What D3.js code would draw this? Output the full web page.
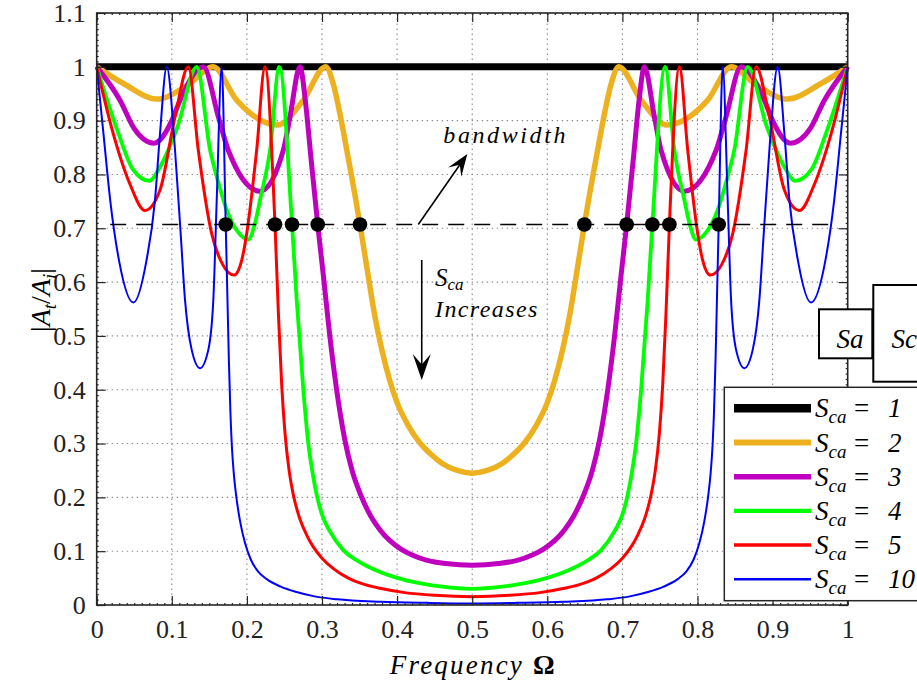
<!DOCTYPE html>
<html>
<head>
<meta charset="utf-8">
<script src="https://cdn.jsdelivr.net/npm/d3@7/dist/d3.min.js"></script>
<style>
  html, body { margin: 0; padding: 0; background: #fff; overflow: hidden; }
  svg { display: block; }
</style>
</head>
<body>
<svg id="chart" width="917" height="687" font-family="'Liberation Serif', 'DejaVu Serif', serif"></svg>
<script>
// ---- axis ticks -------------------------------------------------------
const freqTicks = [0, 0.1, 0.2, 0.3, 0.4, 0.5, 0.6, 0.7, 0.8, 0.9, 1];
const freqTickLabels = ["0", "0.1", "0.2", "0.3", "0.4", "0.5", "0.6", "0.7", "0.8", "0.9", "1"];
const magTicks = [0, 0.1, 0.2, 0.3, 0.4, 0.5, 0.6, 0.7, 0.8, 0.9, 1, 1.1];
const magTickLabels = ["0", "0.1", "0.2", "0.3", "0.4", "0.5", "0.6", "0.7", "0.8", "0.9", "1", "1.1"];

// ---- transmission |At/Ai| versus normalised frequency, one pair per S_ca ----
const scaValues = ["1", "2", "3", "4", "5", "10"];

const freqS1 = [0, 1];
const magS1 = [1, 1];

const freqS2 = [0, 0.0355, 0.080, 0.124, 0.155, 0.1864, 0.2405, 0.2751, 0.305, 0.315, 0.325, 0.335, 0.3435, 0.3506, 0.360, 0.370, 0.380, 0.390, 0.400, 0.415, 0.430, 0.445, 0.460, 0.480, 0.5,
  0.520, 0.540, 0.555, 0.570, 0.585, 0.600, 0.610, 0.620, 0.630, 0.640, 0.6494, 0.6565, 0.665, 0.675, 0.685, 0.695, 0.7249, 0.7595, 0.8136, 0.845, 0.876, 0.920, 0.9645, 1];
const magS2 = [1, 0.969, 0.940, 0.969, 1, 0.938, 0.892, 0.938, 1, 0.968, 0.905, 0.830, 0.765, 0.707, 0.625, 0.540, 0.472, 0.418, 0.376, 0.333, 0.302, 0.280, 0.263, 0.250, 0.245,
  0.250, 0.263, 0.280, 0.302, 0.333, 0.376, 0.418, 0.472, 0.540, 0.625, 0.707, 0.765, 0.830, 0.905, 0.968, 1, 0.938, 0.892, 0.938, 1, 0.969, 0.940, 0.969, 1];

const freqS3 = [0, 0.031, 0.050, 0.0763, 0.100, 0.111, 0.142, 0.162, 0.1752, 0.2174, 0.2485, 0.2574, 0.2707, 0.278, 0.285, 0.2943, 0.302, 0.310, 0.319, 0.330, 0.340, 0.352, 0.365, 0.377, 0.390, 0.405, 0.420, 0.440, 0.465, 0.5,
  0.535, 0.560, 0.580, 0.595, 0.610, 0.623, 0.635, 0.648, 0.660, 0.670, 0.681, 0.690, 0.698, 0.7057, 0.715, 0.722, 0.7293, 0.7426, 0.7515, 0.7826, 0.8248, 0.838, 0.858, 0.889, 0.900, 0.9237, 0.950, 0.969, 1];
const magS3 = [1, 0.938, 0.885, 0.858, 0.900, 0.938, 1, 0.907, 0.845, 0.769, 0.845, 0.907, 1, 0.935, 0.835, 0.707, 0.610, 0.505, 0.405, 0.310, 0.250, 0.203, 0.165, 0.140, 0.120, 0.104, 0.093, 0.083, 0.077, 0.074,
  0.077, 0.083, 0.093, 0.104, 0.120, 0.140, 0.165, 0.203, 0.250, 0.310, 0.405, 0.505, 0.610, 0.707, 0.835, 0.935, 1, 0.907, 0.845, 0.769, 0.845, 0.907, 1, 0.938, 0.900, 0.858, 0.885, 0.938, 1];

const freqS4 = [0, 0.029, 0.048, 0.070, 0.0843, 0.108, 0.1332, 0.151, 0.162, 0.1731, 0.187, 0.2019, 0.210, 0.2175, 0.2308, 0.2432, 0.2601, 0.2663, 0.2751, 0.2818, 0.2875, 0.2929, 0.300, 0.310, 0.3284, 0.345, 0.3595, 0.3773, 0.400, 0.430, 0.460, 0.5,
  0.540, 0.570, 0.600, 0.6227, 0.6405, 0.655, 0.6716, 0.690, 0.700, 0.7071, 0.7125, 0.7182, 0.7249, 0.7337, 0.7399, 0.7568, 0.7692, 0.7825, 0.790, 0.7981, 0.813, 0.8269, 0.838, 0.849, 0.8668, 0.892, 0.9157, 0.930, 0.952, 0.971, 1];
const magS4 = [1, 0.876, 0.810, 0.788, 0.814, 0.890, 1, 0.845, 0.785, 0.734, 0.695, 0.679, 0.705, 0.7525, 0.845, 1, 0.707, 0.567, 0.400, 0.300, 0.245, 0.205, 0.168, 0.138, 0.102, 0.084, 0.0725, 0.0615, 0.0505, 0.0405, 0.034, 0.030,
  0.034, 0.0405, 0.0505, 0.0615, 0.0725, 0.084, 0.102, 0.138, 0.168, 0.205, 0.245, 0.300, 0.400, 0.567, 0.707, 1, 0.845, 0.7525, 0.705, 0.679, 0.695, 0.734, 0.785, 0.845, 1, 0.890, 0.814, 0.788, 0.810, 0.876, 1];

const freqS5 = [0, 0.022, 0.044, 0.0643, 0.0843, 0.1043, 0.122, 0.1353, 0.1531, 0.168, 0.1828, 0.193, 0.1997, 0.213, 0.2241, 0.2374, 0.2420, 0.2463, 0.2507, 0.2560, 0.2618, 0.270, 0.2796, 0.2884, 0.300, 0.3147, 0.335, 0.3595, 0.3773, 0.410, 0.450, 0.5,
  0.550, 0.590, 0.6227, 0.6405, 0.665, 0.6853, 0.700, 0.7116, 0.7204, 0.730, 0.7382, 0.744, 0.7493, 0.7537, 0.758, 0.7626, 0.7759, 0.787, 0.8003, 0.807, 0.8172, 0.832, 0.8469, 0.8647, 0.878, 0.8957, 0.9157, 0.9357, 0.956, 0.978, 1];
const magS5 = [1, 0.876, 0.783, 0.733, 0.771, 0.907, 1, 0.845, 0.690, 0.632, 0.613, 0.640, 0.690, 0.845, 1, 0.707, 0.540, 0.410, 0.320, 0.252, 0.205, 0.162, 0.130, 0.108, 0.087, 0.068, 0.050, 0.037, 0.031, 0.023, 0.018, 0.0155,
  0.018, 0.023, 0.031, 0.037, 0.050, 0.068, 0.087, 0.108, 0.130, 0.162, 0.205, 0.252, 0.320, 0.410, 0.540, 0.707, 1, 0.845, 0.690, 0.640, 0.613, 0.632, 0.690, 0.845, 1, 0.907, 0.771, 0.733, 0.783, 0.876, 1];

const freqS10 = [0, 0.009, 0.018, 0.030, 0.0488, 0.066, 0.0776, 0.0843, 0.0932, 0.1043, 0.1118, 0.1176, 0.1265, 0.1376, 0.1486, 0.1553, 0.1598, 0.1664, 0.1718, 0.1740, 0.1760, 0.1780, 0.1800, 0.1825, 0.186, 0.191, 0.1975, 0.205, 0.215, 0.2264, 0.245, 0.266, 0.29, 0.32, 0.378, 0.44, 0.5,
  0.56, 0.622, 0.68, 0.71, 0.734, 0.755, 0.7736, 0.785, 0.795, 0.8025, 0.809, 0.814, 0.8175, 0.820, 0.822, 0.824, 0.826, 0.8282, 0.8336, 0.8402, 0.8447, 0.8514, 0.8624, 0.8735, 0.8824, 0.8882, 0.8957, 0.9068, 0.9157, 0.9224, 0.934, 0.9512, 0.970, 0.982, 0.991, 1];
const magS10 = [1, 0.876, 0.752, 0.638, 0.562, 0.638, 0.752, 0.876, 1, 0.845, 0.690, 0.567, 0.474, 0.440, 0.474, 0.567, 0.752, 1, 0.707, 0.575, 0.455, 0.360, 0.295, 0.245, 0.200, 0.155, 0.115, 0.085, 0.062, 0.048, 0.034, 0.024, 0.016, 0.0105, 0.006, 0.004, 0.003,
  0.004, 0.006, 0.0105, 0.016, 0.024, 0.034, 0.048, 0.062, 0.085, 0.115, 0.155, 0.200, 0.245, 0.295, 0.360, 0.455, 0.575, 0.707, 1, 0.752, 0.567, 0.474, 0.440, 0.474, 0.567, 0.690, 0.845, 1, 0.876, 0.752, 0.638, 0.562, 0.638, 0.752, 0.876, 1];

// half-power level and the band-edge frequencies where each curve crosses it
const halfPower = 0.707;
const bandEdges = [0.1718, 0.2374, 0.2601, 0.2943, 0.3506, 0.6494, 0.7057, 0.7399, 0.7626, 0.8282];

// ---- styling ---------------------------------------------------------
const serif = "'Liberation Serif', 'DejaVu Serif', serif";
const lineColors = ["#000000", "#EDB120", "#BF00BF", "#00FF00", "#FF0000", "#0000FF"];
const lineWidths = [7, 5.5, 5, 3.8, 3, 2];

const series = [
  [freqS1, magS1], [freqS2, magS2], [freqS3, magS3],
  [freqS4, magS4], [freqS5, magS5], [freqS10, magS10]
].map(([f, m], i) => ({
  name: scaValues[i],
  color: lineColors[i],
  width: lineWidths[i],
  points: f.map((fv, k) => ({ f: fv, m: m[k] }))
}));

// ---- layout ----------------------------------------------------------
const svg = d3.select("#chart");
const plot = { left: 96.7, right: 847.7, top: 13, bottom: 605 };
const x = d3.scaleLinear().domain([0, 1]).range([plot.left, plot.right]);
const y = d3.scaleLinear().domain([0, 1.1]).range([plot.bottom, plot.top]);
const axisColor = "#262626";

// grid
const grid = svg.append("g").attr("class", "grid")
  .attr("stroke", "#8a8a8a").attr("stroke-width", 1.1).attr("stroke-dasharray", "1.4,3.6");
grid.selectAll("line.gx").data(freqTicks.slice(1, -1)).join("line")
  .attr("x1", d => x(d)).attr("x2", d => x(d))
  .attr("y1", y(0)).attr("y2", y(1.1));
grid.selectAll("line.gy").data(magTicks.slice(1, -1)).join("line")
  .attr("x1", x(0)).attr("x2", x(1))
  .attr("y1", d => y(d)).attr("y2", d => y(d));

// curves
const lineGen = d3.line()
  .x(d => x(d.f))
  .y(d => y(d.m))
  .curve(d3.curveMonotoneX);

svg.append("g").attr("class", "curves")
  .selectAll("path").data(series).join("path")
  .attr("fill", "none")
  .attr("stroke", d => d.color)
  .attr("stroke-width", d => d.width)
  .attr("stroke-linejoin", "round")
  .attr("d", d => lineGen(d.points));

// half-power reference line and band-edge markers
svg.append("line")
  .attr("x1", x(0.018)).attr("x2", x(0.985))
  .attr("y1", y(halfPower)).attr("y2", y(halfPower))
  .attr("stroke", "#000").attr("stroke-width", 1.6)
  .attr("stroke-dasharray", "16,10");

svg.append("g").selectAll("circle").data(bandEdges).join("circle")
  .attr("cx", d => x(d)).attr("cy", y(halfPower)).attr("r", 7.3)
  .attr("fill", "#000");

// axes (ticks point inward on all four sides)
function styleAxis(g) {
  g.attr("font-family", serif);
  g.select(".domain").remove();
  g.selectAll(".tick line").attr("stroke", axisColor).attr("stroke-width", 1.2);
  g.selectAll(".tick text").attr("font-size", 26).attr("fill", "#222").attr("font-family", serif);
}
const minorFreq = d3.range(0, 101).map(i => i / 100);
const minorMag = d3.range(0, 111).map(i => i / 100);

svg.append("g").attr("transform", `translate(0,${plot.bottom})`)
  .call(d3.axisBottom(x).tickValues(minorFreq).tickSizeInner(-2).tickSizeOuter(0).tickFormat(""))
  .call(styleAxis);
svg.append("g").attr("transform", `translate(0,${plot.top})`)
  .call(d3.axisTop(x).tickValues(minorFreq).tickSizeInner(-2).tickSizeOuter(0).tickFormat(""))
  .call(styleAxis);
svg.append("g").attr("transform", `translate(${plot.left},0)`)
  .call(d3.axisLeft(y).tickValues(minorMag).tickSizeInner(-2).tickSizeOuter(0).tickFormat(""))
  .call(styleAxis);
svg.append("g").attr("transform", `translate(${plot.right},0)`)
  .call(d3.axisRight(y).tickValues(minorMag).tickSizeInner(-2).tickSizeOuter(0).tickFormat(""))
  .call(styleAxis);

svg.append("g").attr("transform", `translate(0,${plot.bottom})`)
  .call(d3.axisBottom(x).tickValues(freqTicks).tickSizeInner(-9).tickSizeOuter(0).tickPadding(15)
    .tickFormat((d, i) => freqTickLabels[i]))
  .call(styleAxis);
svg.append("g").attr("transform", `translate(0,${plot.top})`)
  .call(d3.axisTop(x).tickValues(freqTicks).tickSizeInner(-9).tickSizeOuter(0).tickFormat(""))
  .call(styleAxis);
svg.append("g").attr("transform", `translate(${plot.left},0)`)
  .call(d3.axisLeft(y).tickValues(magTicks).tickSizeInner(-9).tickSizeOuter(0).tickPadding(11)
    .tickFormat((d, i) => magTickLabels[i]))
  .call(styleAxis);
svg.append("g").attr("transform", `translate(${plot.right},0)`)
  .call(d3.axisRight(y).tickValues(magTicks).tickSizeInner(-9).tickSizeOuter(0).tickFormat(""))
  .call(styleAxis);

svg.append("rect")
  .attr("x", plot.left).attr("y", plot.top)
  .attr("width", plot.right - plot.left).attr("height", plot.bottom - plot.top)
  .attr("fill", "none").attr("stroke", axisColor).attr("stroke-width", 1.6);

// text helper
function label(parent) {
  return parent.append("text").attr("font-family", serif).attr("fill", "#000");
}

// axis titles
const xTitle = label(svg)
  .attr("x", (plot.left + plot.right) / 2).attr("y", 674)
  .attr("text-anchor", "middle").attr("font-size", 27);
xTitle.append("tspan").attr("font-style", "italic").attr("letter-spacing", 2.2).text("Frequency ");
xTitle.append("tspan").attr("font-weight", "bold").text("Ω");

const yTitle = label(svg)
  .attr("transform", `translate(50,${(plot.top + plot.bottom) / 2 - 9}) rotate(-90)`)
  .attr("text-anchor", "middle").attr("font-size", 28);
yTitle.append("tspan").text("|");
yTitle.append("tspan").attr("font-style", "italic").text("A");
yTitle.append("tspan").attr("font-style", "italic").attr("font-size", 19).attr("dy", 6).text("t");
yTitle.append("tspan").attr("dy", -6).text("/");
yTitle.append("tspan").attr("font-style", "italic").text("A");
yTitle.append("tspan").attr("font-style", "italic").attr("font-size", 19).attr("dy", 6).text("i");
yTitle.append("tspan").attr("dy", -6).text("|");

// arrow helper: straight shaft with a notched filled head
function arrow(x1, y1, x2, y2, headLen, headHalf) {
  const dx = x2 - x1, dy = y2 - y1, len = Math.hypot(dx, dy);
  const ux = dx / len, uy = dy / len, nx = -uy, ny = ux;
  const g = svg.append("g");
  g.append("line")
    .attr("x1", x1).attr("y1", y1)
    .attr("x2", x2 - ux * headLen * 0.5).attr("y2", y2 - uy * headLen * 0.5)
    .attr("stroke", "#000").attr("stroke-width", 1.6);
  const bx = x2 - ux * headLen, by = y2 - uy * headLen;
  const pts = [
    [x2, y2],
    [bx + nx * headHalf, by + ny * headHalf],
    [x2 - ux * headLen * 0.6, y2 - uy * headLen * 0.6],
    [bx - nx * headHalf, by - ny * headHalf]
  ];
  g.append("path").attr("d", "M" + pts.map(p => p.join(",")).join("L") + "Z").attr("fill", "#000");
}

// bandwidth annotation
arrow(x(0.4282), y(halfPower), x(0.4935), y(0.838), 22, 8);
label(svg)
  .attr("x", x(0.4615)).attr("y", y(0.858))
  .attr("font-size", 24).attr("font-style", "italic").attr("letter-spacing", 2.6)
  .text("bandwidth");

// S_ca increases annotation
arrow(x(0.4328), y(0.641), x(0.4328), y(0.418), 26, 9);
const scaLabel = label(svg)
  .attr("x", x(0.4505)).attr("y", y(0.592))
  .attr("font-size", 25).attr("font-style", "italic");
scaLabel.append("tspan").text("S");
scaLabel.append("tspan").attr("font-size", 17).attr("dy", 4).text("ca");
label(svg)
  .attr("x", x(0.4505)).attr("y", y(0.536))
  .attr("font-size", 24).attr("font-style", "italic").attr("letter-spacing", 1.4)
  .text("Increases");

// schematic boxes at the right edge
svg.append("rect").attr("x", 873.3).attr("y", 285).attr("width", 70).attr("height", 96.7)
  .attr("fill", "#fff").attr("stroke", "#000").attr("stroke-width", 2);
svg.append("rect").attr("x", 819).attr("y", 309.3).attr("width", 53.3).attr("height", 49)
  .attr("fill", "#fff").attr("stroke", "#000").attr("stroke-width", 2);
label(svg).attr("x", 836.5).attr("y", 348).attr("font-size", 27).attr("font-style", "italic").text("Sa");
label(svg).attr("x", 891.5).attr("y", 348).attr("font-size", 27).attr("font-style", "italic").text("Sc");

// legend
const legend = svg.append("g").attr("class", "legend");
legend.append("rect").attr("x", 724.3).attr("y", 387.3).attr("width", 230).attr("height", 213.4)
  .attr("fill", "#fff").attr("stroke", axisColor).attr("stroke-width", 1.5);
const rows = legend.selectAll("g.row").data(series).join("g")
  .attr("class", "row")
  .attr("transform", (d, i) => `translate(0,${408.3 + i * 34.2})`);
rows.append("line")
  .attr("x1", 734).attr("x2", 811).attr("y1", 0).attr("y2", 0)
  .attr("stroke", d => d.color).attr("stroke-width", d => d.width + (d.name === "1" ? 1.5 : 0.5));
const lt = label(rows).attr("y", 9).attr("font-size", 27).attr("font-style", "italic");
lt.append("tspan").attr("x", 815).text("S");
lt.append("tspan").attr("font-size", 19).attr("dy", 6).text("ca");
lt.append("tspan").attr("x", 854).attr("dy", -6).attr("font-style", "normal").text("=");
lt.append("tspan").attr("x", 888).text(d => d.name);
</script>
</body>
</html>
